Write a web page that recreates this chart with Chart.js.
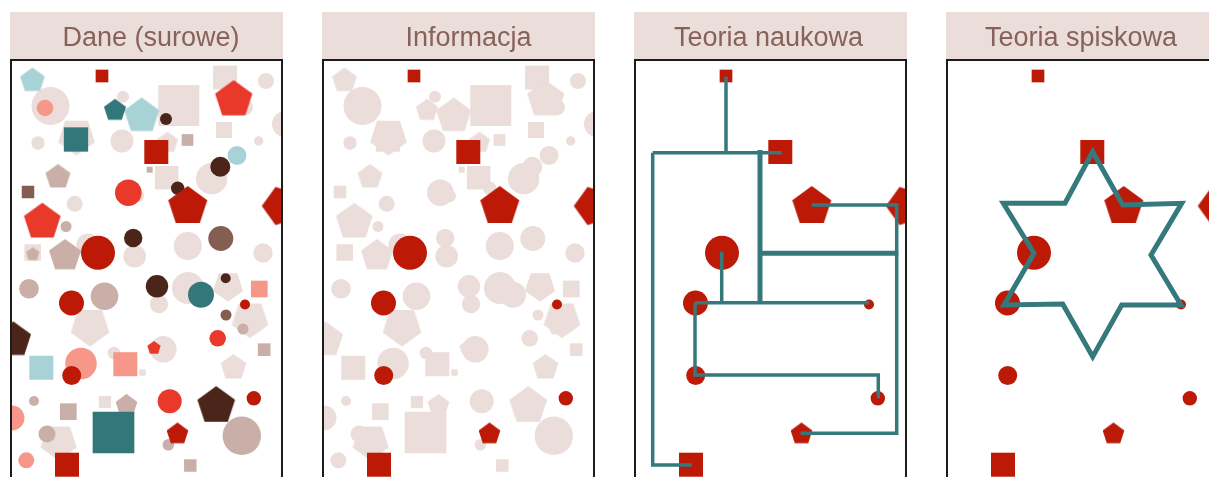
<!DOCTYPE html>
<html><head><meta charset="utf-8">
<script src="https://cdn.jsdelivr.net/npm/chart.js@4.4.1/dist/chart.umd.min.js"></script>
<style>
html,body{margin:0;padding:0;background:#fff;overflow:hidden;width:1209px;height:477px;}
canvas{position:absolute;top:0;}
</style></head><body>
<canvas id="p0" width="273" height="520" style="left:10px"></canvas>
<canvas id="p1" width="273" height="520" style="left:322px"></canvas>
<canvas id="p2" width="273" height="520" style="left:634px"></canvas>
<canvas id="p3" width="273" height="520" style="left:946px"></canvas>
<script>
const panelTitles = ['Dane (surowe)', 'Informacja', 'Teoria naukowa', 'Teoria spiskowa'];
const titleShift = [4.5, 10, -2, -1.5];

// shape records: [x, y, size, kind(c=circle r, s=square side, p=pentagon R), rotation deg]
const paleShapes = [
  [40.5,46,19,'c',0],[113,36.7,6,'c',0],[168.8,45.5,41,'s',0],[215,17.5,24,'s',0],
  [256,21,8,'c',0],[275,64,13,'c',0],[28,83,6.7,'c',0],[66.5,76.3,19.3,'p',180],
  [112,81,11.5,'c',0],[157.5,82.7,11,'p',0],[214,70,16,'s',0],[248.7,81,4.7,'c',0],
  [235.5,47.5,7.5,'c',0],[201.7,118.7,15.7,'c',0],[156.7,117.7,23.5,'s',0],[128,136,6,'c',0],
  [64.7,143.8,8,'c',0],[78,185,11.5,'c',0],[22.7,192.5,16.5,'s',0],[124.7,196.3,11.3,'c',0],
  [177.8,186,14,'c',0],[253,193,9.7,'c',0],[149,244,9.2,'c',0],[178,228,16,'c',0],
  [218,226,15.8,'p',180],[240,259,19.3,'p',180],[80,266.4,20.3,'p',180],[104,293,6.3,'c',0],
  [132.5,312.5,6.3,'s',0],[153.3,289.3,13.3,'c',0],[223.5,307.5,13.5,'p',0],[95,342,12.3,'s',0],
  [48.7,381.8,19,'p',180]
];
const taupeShapes = [
  [177.5,80,11.7,'s',0],[48,117,13.1,'p',0],[139.7,109.7,6,'s',0],[56,166.5,5.5,'c',0],
  [55,195.8,16.8,'p',0],[22.7,194.3,7,'p',0],[19,228.7,9.8,'c',0],[94.5,236.3,13.8,'c',0],
  [233,269,5.5,'c',0],[254.2,289.7,12.7,'s',0],[24,341,5,'c',0],[116.5,345.4,11.4,'p',0],
  [58.3,351.7,16.7,'s',0],[231.8,375.8,19.2,'c',0],[37,374,8.5,'c',0],[158.3,384.8,5.8,'c',0],
  [180.3,405.5,12.5,'s',0]
];
const salmonShapes = [
  [35,48,8.3,'c',0],[249.3,229,16.7,'s',0],[71,303.5,15.8,'c',0],[115.3,304.2,24,'s',0],
  [2,358,12.5,'c',0],[16.3,400.3,8,'c',0]
];
const lightTealShapes = [
  [22.5,20.5,13,'p',0],[131.7,56,18.4,'p',0],[227,95.5,9.5,'c',0],[31.3,307.8,24,'s',0]
];
const brownShapes = [
  [18,132,12.5,'s',0],[210.8,178.5,12.5,'c',0],[216,255,5.5,'c',0]
];
const tealShapes = [
  [105,50.3,11.6,'p',0],[66,79.5,24.3,'s',0],[191,234.7,13,'c',0],[103.5,372.5,41.7,'s',0]
];
const darkBrownShapes = [
  [156,59,6,'c',0],[210.3,106.7,10,'c',0],[167.7,128.3,6.7,'c',0],[123.2,178,9.2,'c',0],
  [147,226.3,11.2,'c',0],[215.7,218.3,5,'c',0],[3.4,280,18.5,'p',0],[206.2,345.8,19.8,'p',0]
];
const brightRedShapes = [
  [223.7,39.6,19.6,'p',0],[118.3,132.7,13.3,'c',0],[32.3,162,19.3,'p',0],[144,288,7,'p',0],
  [207.7,278.3,8.3,'c',0],[159.7,341.3,12,'c',0]
];
const keyShapes = [
  [92,16,12.7,'s',0],[146.3,92,24,'s',0],[177.8,146.5,20.5,'p',0],[271.8,146,20.1,'p',-90],
  [88,192.7,17,'c',0],[61.5,243,12.5,'c',0],[235,244.5,5,'c',0],[61.7,315.5,9.5,'c',0],
  [243.8,338.3,7.2,'c',0],[167.5,374,11.4,'p',0],[57,404.7,24,'s',0]
];

// Scientific theory: connecting paths
const scienceThin = [
  [[92,16.7],[92,92.7]],
  [[18.7,92.7],[147.7,92.7]],
  [[18.7,92.7],[18.7,405],[57.7,405]],
  [[177.7,145],[262.7,145],[262.7,373.3],[166.7,373.3]],
  [[87.7,191.7],[87.7,242.7]],
  [[61,242.7],[235.3,242.7]],
  [[61,242.7],[61,315],[244.3,315],[244.3,338.3]]
];
const scienceThick = [
  [[126,90],[126,243.3]],
  [[126,193.3],[264.3,193.3]]
];
// Conspiracy theory: star
const conspiracyStar = [
  [146.7,91.7],[176.7,145],[235.7,143.3],[205,195],[235,245],[175.7,245],
  [146.7,296.7],[116.7,244],[58,245],[88,193.3],[57.3,143.3],[119,143.3],
  [146.7,91.7],[176.7,145]
];

const PALE = '#eaddda';
const groups = [ // bottom to top
  {shapes: paleShapes, color: PALE},
  {shapes: taupeShapes, color: '#c9afa7'},
  {shapes: salmonShapes, color: '#f6978a'},
  {shapes: lightTealShapes, color: '#a7d3d7'},
  {shapes: brownShapes, color: '#855e52'},
  {shapes: tealShapes, color: '#34777b'},
  {shapes: darkBrownShapes, color: '#4b2519'},
  {shapes: brightRedShapes, color: '#e8392a'},
  {shapes: keyShapes, color: '#bc1a07', key: true}
];
const LINE = '#36797d';

const pentCache = {};
function pentagon(R, color) {
  const k = R + color;
  if (pentCache[k]) return pentCache[k];
  const size = Math.ceil(2 * R + 4);
  const c = document.createElement('canvas');
  c.width = c.height = size;
  const g = c.getContext('2d');
  g.fillStyle = color;
  g.beginPath();
  for (let i = 0; i < 5; i++) {
    const a = -Math.PI / 2 + i * 2 * Math.PI / 5;
    const px = size / 2 + R * Math.cos(a), py = size / 2 + R * Math.sin(a);
    if (i) g.lineTo(px, py); else g.moveTo(px, py);
  }
  g.closePath();
  g.fill();
  pentCache[k] = c;
  return c;
}

function shapeDataset(shapes, color, order) {
  return {
    type: 'scatter',
    data: shapes.map(s => ({x: s[0], y: s[1]})),
    backgroundColor: color,
    pointBorderWidth: 0,
    pointStyle: shapes.map(s => s[3] === 'c' ? 'circle' : s[3] === 's' ? 'rect' : pentagon(s[2], color)),
    pointRadius: shapes.map(s => s[3] === 's' ? s[2] / Math.SQRT2 : s[2]),
    pointRotation: shapes.map(s => s[4]),
    order: order,
    clip: 0
  };
}
function lineDataset(path, width, join) {
  return {
    type: 'scatter',
    data: path.map(p => ({x: p[0], y: p[1]})),
    showLine: true,
    borderColor: LINE,
    borderWidth: width,
    borderJoinStyle: join,
    borderCapStyle: 'butt',
    pointRadius: 0,
    order: 0,
    clip: 0
  };
}

const headerFrame = {
  id: 'headerFrame',
  beforeDraw(chart, args, opts) {
    const c = chart.ctx;
    c.save();
    c.fillStyle = '#ebdeda';
    c.fillRect(0, 12, chart.width, 47);
    c.fillStyle = '#87625a';
    c.font = 'normal 27px "Liberation Sans", Arial, sans-serif';
    c.textAlign = 'center';
    c.textBaseline = 'alphabetic';
    c.fillText(opts.text, chart.width / 2 + opts.shift, 46);
    c.restore();
  },
  afterDraw(chart) {
    const c = chart.ctx, a = chart.chartArea;
    c.save();
    c.strokeStyle = '#1c1c1c';
    c.lineWidth = 2;
    c.strokeRect(a.left + 1, a.top, a.right - a.left - 2, a.bottom - a.top);
    c.restore();
  }
};

function buildPanel(idx) {
  const datasets = [];
  const n = groups.length;
  groups.forEach((g, i) => {
    if (idx === 0) datasets.push(shapeDataset(g.shapes, g.color, n - i + 1));
    else if (idx === 1) datasets.push(shapeDataset(g.shapes, g.key ? g.color : PALE, n - i + 1));
    else if (g.key) datasets.push(shapeDataset(g.shapes, g.color, 2));
  });
  if (idx === 2) {
    scienceThin.forEach(p => datasets.push(lineDataset(p, 3.5, 'miter')));
    scienceThick.forEach(p => datasets.push(lineDataset(p, 5, 'miter')));
  }
  if (idx === 3) datasets.push(lineDataset(conspiracyStar, 5, 'miter'));

  new Chart(document.getElementById('p' + idx), {
    type: 'scatter',
    data: {datasets},
    options: {
      responsive: false,
      devicePixelRatio: 1,
      animation: false,
      events: [],
      layout: {padding: {top: 60}, autoPadding: false},
      scales: {
        x: {type: 'linear', min: 0, max: 273, display: false},
        y: {type: 'linear', min: 0, max: 460, reverse: true, display: false}
      },
      plugins: {
        legend: {display: false},
        tooltip: {enabled: false},
        title: {display: false},
        headerFrame: {text: panelTitles[idx], shift: titleShift[idx]}
      }
    },
    plugins: [headerFrame]
  });
}
[0, 1, 2, 3].forEach(buildPanel);
</script>
</body></html>
